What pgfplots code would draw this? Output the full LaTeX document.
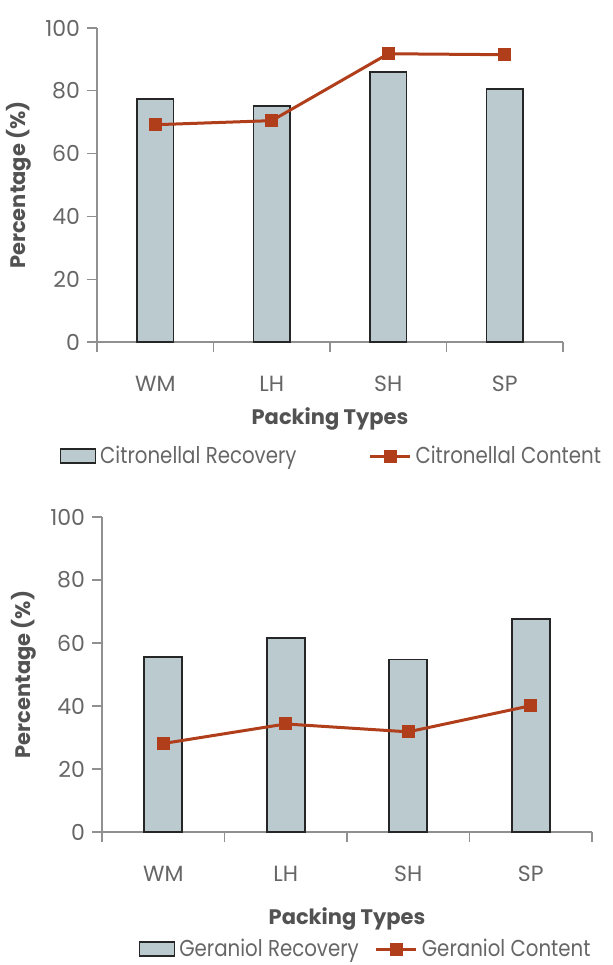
\documentclass[border=0pt]{standalone}
\usepackage{pgfplots}
\pgfplotsset{compat=1.18}
\usepackage{fontspec}
\setmainfont{Poppins}
\newfontfamily\narrowfont[FakeStretch=0.86]{Poppins}
\definecolor{barfill}{HTML}{BACACF}
\definecolor{linec}{HTML}{B03E1A}
\definecolor{txt}{HTML}{666666}
\definecolor{axc}{HTML}{909090}
\pgfplotsset{
  mystyle/.style={
    scale only axis,
    axis lines*=left,
    axis line style={axc, line width=0.6pt},
    ymin=0, ymax=100,
    ytick={0,20,40,60,80,100},
    xmin=-0.5, xmax=3.5,
    xtick={-0.5,0.5,1.5,2.5,3.5},
    xticklabels={},
    extra x ticks={0,1,2,3},
    extra x tick labels={WM,LH,SH,SP},
    extra x tick style={major tick length=0pt, tick style={draw=none}},
    tick align=outside,
    major tick length=5pt,
    tick style={axc, line width=0.6pt},
    x tick label style={font=\fontsize{11}{13}\selectfont, text=txt, yshift=-13.5pt},
    y tick label style={font=\fontsize{11}{13}\selectfont, text=txt},
    /pgf/number format/assume math mode=true,
    ylabel={\textbf{Percentage (\%)}},
    ylabel style={font=\fontsize{10.5}{12}\selectfont, text=txt!80!black},
    xlabel={\textbf{Packing Types}},
    xlabel style={font=\fontsize{10.5}{12}\selectfont, text=txt!80!black},
    legend style={draw=none, fill=none, font=\narrowfont\fontsize{11.5}{13}\selectfont, text=txt,
      legend columns=2, anchor=center,
      /tikz/every odd column/.append style={column sep=0pt}},
    clip=false,
  },
  barst/.style={ybar, bar width=0.31, fill=barfill, draw=black!85, line width=0.8pt, bar shift=0pt},
  linest/.style={sharp plot, color=linec, line width=1.5pt, mark=square*, mark size=2.5pt,
    mark options={fill=linec, draw=linec}},
  barleg/.style={legend image code/.code={\draw[fill=barfill, draw=black!85, line width=0.8pt] (2pt,-3.5pt) rectangle (19.5pt,3.5pt);}},
  lineleg/.style={legend image code/.code={\draw[linec, line width=1.5pt] (0pt,0pt) -- (20pt,0pt); \fill[linec] (10pt,0pt) ++(-2.5pt,-2.5pt) rectangle ++(5pt,5pt);}},
}
\begin{document}
\begin{tikzpicture}
\begin{axis}[mystyle,
  at={(48.5pt,-171pt)}, anchor=south west,
  width=233pt, height=157pt,
  xlabel style={yshift=4pt},
  legend style={at={(0.505,0)}, yshift=-57pt, /tikz/every even column/.append style={column sep=34pt}},
]
\addplot[barst, barleg] coordinates {(0,77.4) (1,75.1) (2,86.0) (3,80.5)};
\addlegendentry{Citronellal Recovery}
\addplot[linest, lineleg] coordinates {(0,69.2) (1,70.5) (2,91.8) (3,91.5)};
\addlegendentry{Citronellal Content}
\end{axis}
\begin{axis}[mystyle,
  at={(51pt,-416pt)}, anchor=south west,
  width=245pt, height=157.5pt,
  xlabel style={yshift=-1pt},
  legend style={at={(0.54,0)}, yshift=-58.5pt, /tikz/every even column/.append style={column sep=6pt}},
]
\addplot[barst, barleg] coordinates {(0,55.5) (1,61.6) (2,54.8) (3,67.6)};
\addlegendentry{Geraniol Recovery}
\addplot[linest, lineleg] coordinates {(0,28.1) (1,34.3) (2,31.8) (3,40.1)};
\addlegendentry{Geraniol Content}
\end{axis}
\pgfresetboundingbox
\useasboundingbox (0pt,0pt) rectangle (306pt,-482.5pt);
\end{tikzpicture}
\end{document}
